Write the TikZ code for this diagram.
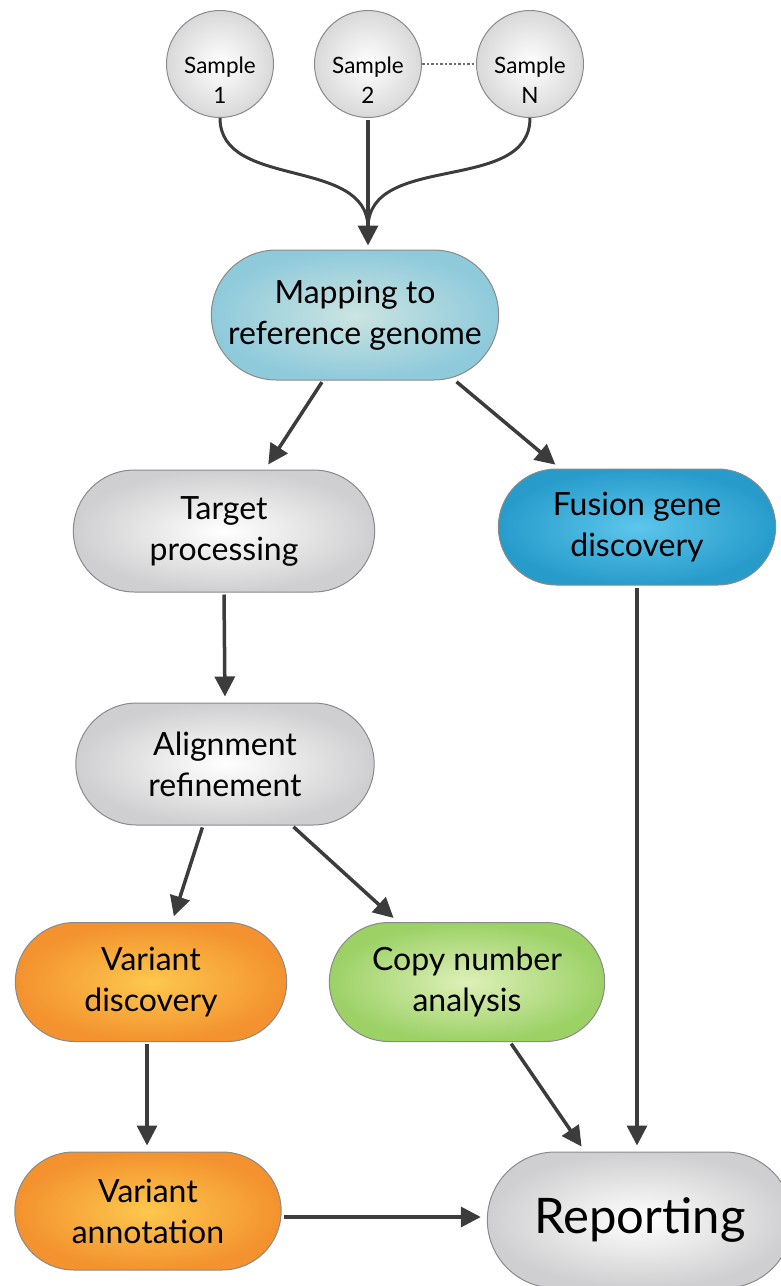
\documentclass[tikz,border=0pt]{standalone}
\usepackage{fontspec}
\setmainfont{Lato}
\usepackage{xcolor}
\usepackage{tikz}
\usetikzlibrary{arrows.meta,shapes.misc,positioning,calc}
\definecolor{arrowgray}{HTML}{3C3C3C}
\definecolor{rimgray}{HTML}{8A8A8A}
\definecolor{mapin}{HTML}{CBE4E1}
\definecolor{mapout}{HTML}{8FCADB}
\definecolor{fusin}{HTML}{5DC6EC}
\definecolor{fusout}{HTML}{279CCB}
\definecolor{orin}{HTML}{FDC84E}
\definecolor{orout}{HTML}{F3922E}
\definecolor{grin}{HTML}{DDF0B8}
\definecolor{grout}{HTML}{9CD166}
\definecolor{gyin}{HTML}{FFFFFF}
\definecolor{gyout}{HTML}{CFCFD1}
\tikzset{%
       sample/.style = { circle, draw=rimgray, line width=1pt, minimum size=107pt,
                         shading=radial, inner color=white, outer color=gyout!80 },
   sampletext/.style = { align=center, font=\fontsize{22.5}{30}\selectfont },
      stepbox/.style = { rounded rectangle, draw=rimgray, line width=1pt,
                         shading=radial, align=center,
                         font=\fontsize{32}{41}\selectfont },
      greybox/.style = { stepbox, inner color=gyin, outer color=gyout },
       mapbox/.style = { stepbox, inner color=mapin, outer color=mapout },
       fusbox/.style = { stepbox, inner color=fusin, outer color=fusout },
       varbox/.style = { stepbox, inner color=orin, outer color=orout },
       cnvbox/.style = { stepbox, inner color=grin, outer color=grout },
         flow/.style = { arrowgray, line width=3.5pt,
                         -{Triangle[length=20pt,width=20pt]},
                         shorten >=6pt, shorten <=2pt },
         feed/.style = { arrowgray, line width=3pt },
        dotty/.style = { arrowgray!75, line width=2.5pt, dash pattern=on 2.5pt off 2pt }
}
\begin{document}
\begin{tikzpicture}[x=1pt,y=-1pt]
\useasboundingbox (0,0) rectangle (781,1286);
% samples
\node[sample] (s1) at (220,64) {};
\node[sample] (s2) at (368,64) {};
\node[sample] (sn) at (530,64) {};
\node[sampletext] (s1t) at (220,80) {Sample\\1};
\node[sampletext] (s2t) at (368,80) {Sample\\2};
\node[sampletext] (snt) at (530,80) {Sample\\N};
\draw[dotty] (s2) -- (sn);
\coordinate (merge) at (368,228);
% processing steps
\node[mapbox, minimum width=294pt, minimum height=130pt] (map) at (355,315) {Mapping to\\reference genome};
\node[greybox, minimum width=308pt, minimum height=122pt] (target) at (224,531) {Target\\processing};
\node[fusbox, minimum width=284pt, minimum height=116pt] (fusion) at (637,527) {Fusion gene\\discovery};
\node[greybox, minimum width=305pt, minimum height=122pt] (align) at (225,764) {Alignment\\refinement};
\node[varbox, minimum width=278pt, minimum height=119pt] (vdisc) at (151,982) {Variant\\discovery};
\node[cnvbox, minimum width=282pt, minimum height=119pt] (cnv) at (467,982) {Copy number\\analysis};
\node[varbox, minimum width=273pt, minimum height=118pt] (vann) at (148,1211) {Variant\\annotation};
\node[greybox, minimum width=312pt, minimum height=136pt, font=\fontsize{49}{52}\selectfont] (report) at (640,1220) {Reporting};
% connectors
\draw[feed] (s1.south) to[out=-90,in=90] (merge);
\draw[feed] (sn.south) to[out=-90,in=90] (merge);
\draw[flow, shorten >=4pt] (s2.south) -- (s2.south |- map.north);
\draw[flow] ([xshift=-32pt]map.south) -- ([xshift=41pt]target.north);
\draw[flow] ([xshift=100pt]map.south) -- ([xshift=-77pt]fusion.north);
\draw[flow] (target.south) -- (align.north);
\draw[flow] (fusion.south) -- (fusion.south |- report.north);
\draw[flow] ([xshift=-22pt]align.south) -- ([xshift=21pt]vdisc.north);
\draw[flow] ([xshift=67pt]align.south) -- ([xshift=-69pt]cnv.north);
\draw[flow] ([xshift=-4pt]vdisc.south) -- ([xshift=-1pt]vann.north);
\draw[flow] ([xshift=43pt]cnv.south) -- ([xshift=-55pt]report.north);
\draw[flow] ([yshift=-6pt]vann.east) -- ([yshift=-6pt]vann.east -| report.west);
\end{tikzpicture}
\end{document}
